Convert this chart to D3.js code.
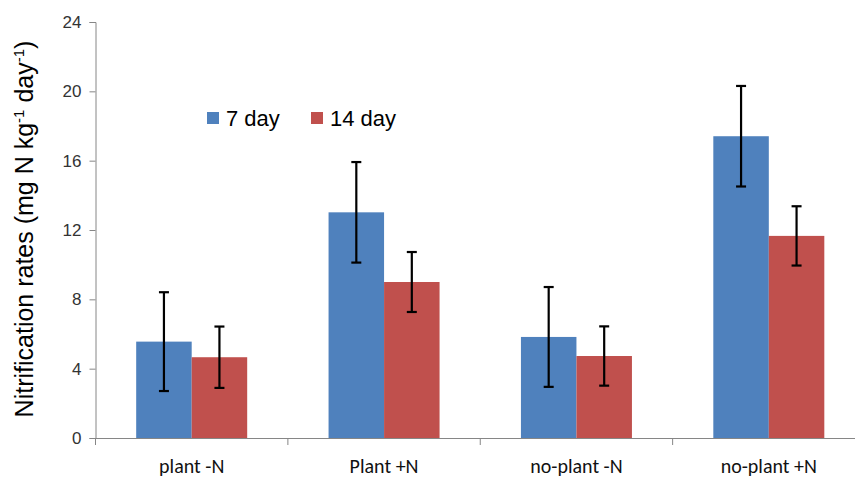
<!DOCTYPE html>
<html><head><meta charset="utf-8">
<script src="https://cdn.jsdelivr.net/npm/d3@7"></script>
<style>body{margin:0;background:#fff}</style>
</head><body>
<svg id="c" width="855" height="477"></svg>
<script>
const categories = ["plant -N", "Plant +N", "no-plant -N", "no-plant +N"];
const seriesNames = ["7 day", "14 day"];
const day7 = [5.56, 13.02, 5.83, 17.41];
const day14 = [4.66, 9.0, 4.73, 11.66];
const err7 = [2.85, 2.9, 2.88, 2.9];
const err14 = [1.77, 1.73, 1.71, 1.71];
const yTicks = [0, 4, 8, 12, 16, 20, 24];
const colors = ["#4F81BD", "#C0504D"];

const svg = d3.select("#c");
const x0 = 95.5, x1 = 865, yTop = 22, yBot = 438;
const x = d3.scaleBand().domain(categories).range([x0, x1]).paddingInner(0).paddingOuter(0);
const y = d3.scaleLinear().domain([0, 24]).range([yBot, yTop]);
const bw = 55.5;
const inner = d3.scaleBand().domain(seriesNames).range([-bw, bw]);

const data = categories.map((c, i) => ({c, vals: [
  {s: seriesNames[0], v: day7[i], e: err7[i]},
  {s: seriesNames[1], v: day14[i], e: err14[i]}]}));

const g = svg.selectAll("g.cat").data(data).join("g")
  .attr("transform", d => `translate(${x(d.c) + x.bandwidth()/2},0)`);
g.selectAll("rect").data(d => d.vals).join("rect")
  .attr("x", d => inner(d.s)).attr("width", inner.bandwidth())
  .attr("y", d => y(d.v)).attr("height", d => y(0) - y(d.v))
  .attr("fill", (d, i) => colors[i]);
const eb = g.selectAll("g.eb").data(d => d.vals).join("g")
  .attr("transform", d => `translate(${inner(d.s) + inner.bandwidth()/2},0)`)
  .attr("stroke", "#000").attr("stroke-width", 2.2);
eb.append("line").attr("y1", d => y(d.v + d.e)).attr("y2", d => y(d.v - d.e));
eb.append("line").attr("x1", -5).attr("x2", 5).attr("y1", d => y(d.v + d.e)).attr("y2", d => y(d.v + d.e));
eb.append("line").attr("x1", -5).attr("x2", 5).attr("y1", d => y(d.v - d.e)).attr("y2", d => y(d.v - d.e));

// y axis
const ya = svg.append("g").attr("transform", `translate(${x0},0)`)
  .call(d3.axisLeft(y).tickValues(yTicks).tickSize(6).tickPadding(8));
ya.select(".domain").attr("stroke", "#868686");
ya.selectAll(".tick line").attr("stroke", "#868686");
ya.selectAll(".tick text").attr("font-family", "Arial, Liberation Sans, sans-serif").attr("font-size", 17).attr("fill", "#333");

// x axis
const xa = svg.append("g").attr("transform", `translate(0,${yBot})`)
  .call(d3.axisBottom(x).tickSize(0));
xa.select(".domain").attr("stroke", "#868686");
xa.selectAll(".tick text").attr("y", 35).attr("dy", 0)
  .attr("font-family", "Carlito, 'Liberation Sans', Arial, sans-serif").attr("font-size", 20).attr("fill", "#111");
svg.append("g").selectAll("line").data(categories.concat(["end"])).join("line")
  .attr("x1", (d,i) => i < categories.length ? x(d) : x1).attr("x2", (d,i) => i < categories.length ? x(d) : x1)
  .attr("y1", yBot).attr("y2", yBot + 7).attr("stroke", "#868686");

// y title
svg.append("text").attr("transform", `translate(33,229) rotate(-90)`)
  .attr("text-anchor", "middle").attr("font-family", "Arial, Liberation Sans, sans-serif")
  .attr("font-size", 25).attr("fill", "#000")
  .html('Nitrification rates (mg N kg<tspan dy="-9" font-size="15">-1</tspan><tspan dy="9"> day</tspan><tspan dy="-9" font-size="15">-1</tspan><tspan dy="9">)</tspan>');

// legend
const leg = svg.append("g").selectAll("g").data(seriesNames).join("g")
  .attr("transform", (d, i) => `translate(${207 + i * 104},112)`);
leg.append("rect").attr("width", 12).attr("height", 12).attr("fill", (d, i) => colors[i]);
leg.append("text").attr("x", 19).attr("y", 14).text(d => d)
  .attr("font-family", "Arial, Liberation Sans, sans-serif").attr("font-size", 22).attr("fill", "#000");
</script>
</body></html>
